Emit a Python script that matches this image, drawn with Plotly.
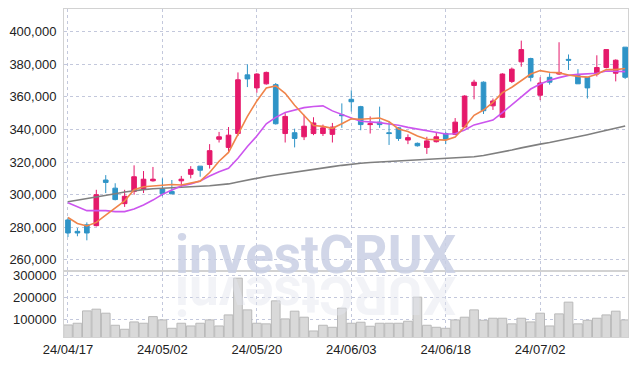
import plotly.graph_objects as go

dates = ["24/04/17", "24/04/18", "24/04/19", "24/04/22", "24/04/23", "24/04/24", "24/04/25", "24/04/26", "24/04/29", "24/04/30",
         "24/05/02", "24/05/03", "24/05/07", "24/05/08", "24/05/09", "24/05/10", "24/05/13", "24/05/14", "24/05/16", "24/05/17",
         "24/05/20", "24/05/21", "24/05/22", "24/05/23", "24/05/24", "24/05/27", "24/05/28", "24/05/29", "24/05/30", "24/05/31",
         "24/06/03", "24/06/04", "24/06/05", "24/06/07", "24/06/10", "24/06/11", "24/06/12", "24/06/13", "24/06/14", "24/06/17",
         "24/06/18", "24/06/19", "24/06/20", "24/06/21", "24/06/24", "24/06/25", "24/06/26", "24/06/27", "24/06/28", "24/07/01",
         "24/07/02", "24/07/03", "24/07/04", "24/07/05", "24/07/08", "24/07/09", "24/07/10", "24/07/11", "24/07/12", "24/07/15"]

opens = [284500, 277500, 281500, 281000, 309000, 304000, 294500, 302000, 303500, 308500,
         303500, 302000, 308500, 312500, 317500, 318500, 334000, 329000, 337500, 373500,
         365500, 368000, 367500, 337500, 338000, 335500, 337500, 337500, 337000, 349000,
         358500, 354000, 343000, 344500, 338000, 341000, 333500, 331500, 329000, 332500,
         337500, 337000, 341500, 367000, 369000, 354500, 347500, 369500, 381500, 383500,
         361000, 372000, 374000, 383000, 373000, 372000, 374000, 378000, 374500, 390500]
highs = [286000, 279500, 283000, 303000, 312000, 307000, 303000, 318000, 314500, 317000,
         310000, 309000, 311500, 317500, 317500, 331000, 338500, 341500, 375000, 380000,
         374500, 375500, 368500, 350000, 340500, 349000, 347500, 343000, 344000, 356000,
         364000, 354500, 348000, 354000, 345000, 341500, 337000, 332000, 335500, 338000,
         338500, 347000, 361000, 370500, 369500, 359000, 374500, 378000, 394500, 384000,
         372000, 374500, 393500, 386000, 377000, 372000, 385500, 389000, 383000, 390500]
lows = [274000, 274500, 272000, 280500, 301000, 296500, 292500, 300000, 301000, 308000,
        299000, 300500, 304500, 310000, 311000, 316000, 332000, 326500, 336000, 366000,
        362500, 367500, 343000, 332000, 329000, 333500, 336500, 336000, 332000, 341000,
        351000, 339500, 337500, 341000, 330500, 333000, 331000, 329500, 325000, 332000,
        331000, 336500, 341000, 358500, 349500, 352000, 347000, 368500, 378500, 369500,
        358000, 367500, 373500, 376500, 368000, 359000, 372500, 377500, 369500, 371000]
closes = [276500, 276500, 276500, 300000, 307500, 297000, 299000, 311000, 309500, 309500,
          300500, 300500, 309500, 315500, 315000, 327000, 335500, 336500, 370500, 371000,
          374000, 375000, 343500, 348000, 334500, 342000, 344000, 341000, 341500, 348500,
          357000, 343000, 343500, 343000, 337500, 334500, 335000, 330000, 333000, 335500,
          334000, 344500, 360500, 369000, 351500, 357500, 374000, 377000, 389000, 372000,
          368500, 369000, 375000, 382500, 368000, 365500, 378000, 389000, 382500, 372000]

ma5 = [286000, 282300, 280800, 283000, 287400, 291600, 296200, 303100, 304900, 305300,
       305900, 306200, 305900, 307200, 308300, 313600, 320500, 325900, 336900, 348000,
       357500, 365400, 366700, 362200, 354900, 348600, 342400, 341900, 340700, 343500,
       346500, 346300, 346700, 347000, 344800, 340300, 338700, 336000, 334000, 333600,
       333500, 335400, 341500, 348700, 351900, 356600, 362600, 365900, 369900, 374000,
       376100, 375100, 374700, 373400, 372600, 372100, 373900, 376700, 376700, 377400]
ma20 = [295100, 292700, 290200, 290200, 290200, 289600, 289600, 291200, 293700, 296700,
        300200, 302900, 305300, 306600, 308400, 311500, 314100, 316200, 322300, 329500,
        336000, 343500, 347400, 350400, 352100, 353400, 354100, 354500, 351400, 349000,
        347000, 345000, 344800, 344200, 343400, 342600, 341300, 340300, 339100, 338300,
        337200, 337400, 339700, 342800, 344200, 345800, 350300, 355000, 360100, 364800,
        367900, 370200, 371800, 373200, 373800, 374300, 374500, 375900, 375500, 375500]
ma_long = [295700, 296600, 297600, 298600, 299600, 300600, 301600, 302500, 303100, 303600,
           304000, 304300, 304600, 304900, 305200, 305500, 305900, 306600, 307800, 309000,
           310300, 311200, 312100, 313000, 314000, 314900, 315700, 316500, 317200, 318000,
           318800, 319300, 319700, 320000, 320300, 320600, 320900, 321100, 321400, 321700,
           322000, 322400, 322800, 323300, 324000, 325000, 326100, 327400, 328700, 330000,
           331000, 332000, 333100, 334200, 335500, 336800, 338100, 339400, 340800, 342100]

volume = [74000, 81800, 137700, 145500, 127300, 72700, 54500, 87700, 81800, 111800,
          96800, 59000, 81800, 69500, 81800, 96800, 69500, 119500, 286000, 142300,
          81800, 79000, 183200, 101400, 136400, 109100, 46800, 72700, 63600, 150000,
          81800, 86400, 68200, 81800, 81800, 81800, 90900, 200000, 72700, 63600,
          59000, 96800, 109100, 142300, 95300, 104500, 104500, 79000, 104500, 87700,
          127300, 69500, 124200, 177300, 79000, 95300, 104500, 119500, 136400, 96800]

tick_dates = dates[::10]
price_ticks = [260000, 280000, 300000, 320000, 340000, 360000, 380000, 400000]
volume_ticks = [100000, 200000, 300000]

UP = "#e5196b"
DOWN = "#2f94c7"
GRID = "#c3c8dc"
FRAME = "#d2d2d2"
FONT = "Liberation Sans, Arial, sans-serif"
WM_FONT = "Roboto, Liberation Sans, sans-serif"

fig = go.Figure()

fig.add_trace(go.Bar(
    x=dates, y=volume, xaxis="x", yaxis="y2",
    marker=dict(color="#d9d9d9", line=dict(color="#b9b9b9", width=1)),
    showlegend=False, hoverinfo="skip"))

fig.add_trace(go.Scatter(x=dates, y=ma_long, mode="lines", line=dict(color="#7f7f7f", width=1.6),
                         showlegend=False, hoverinfo="skip"))
fig.add_trace(go.Scatter(x=dates, y=ma20, mode="lines", line=dict(color="#cc55ee", width=1.6),
                         showlegend=False, hoverinfo="skip"))
fig.add_trace(go.Scatter(x=dates, y=ma5, mode="lines", line=dict(color="#f0844a", width=1.6),
                         showlegend=False, hoverinfo="skip"))

fig.add_trace(go.Candlestick(
    x=dates, open=opens, high=highs, low=lows, close=closes,
    increasing=dict(line=dict(color=UP, width=1), fillcolor=UP),
    decreasing=dict(line=dict(color=DOWN, width=1), fillcolor=DOWN),
    whiskerwidth=0, showlegend=False, hoverinfo="skip"))

# watermark and its reflection
fig.add_annotation(text="<b>investCRUX</b>", xref="paper", yref="paper", x=0.447, y=0.149,
                   showarrow=False, font=dict(family=WM_FONT, size=53, color="#c9d0e4"), opacity=0.85)
fig.add_annotation(text="<b>XURCtsevni</b>", xref="paper", yref="paper", x=0.447, y=0.027,
                   textangle=180, showarrow=False,
                   font=dict(family=WM_FONT, size=53, color="#e3e6ef"), opacity=0.45)

fig.update_layout(
    width=637, height=366,
    margin=dict(l=64, r=9, t=9, b=29, autoexpand=False),
    paper_bgcolor="white", plot_bgcolor="white",
    bargap=0.08,
    xaxis=dict(type="category", anchor="y2", range=[-0.42, 59.3], automargin=False,
               tickmode="array", tickvals=tick_dates, ticktext=tick_dates,
               showgrid=True, gridcolor=GRID, griddash="dot", gridwidth=1,
               showline=True, linecolor=FRAME, mirror="all",
               rangeslider=dict(visible=False), ticks="",
               tickfont=dict(family=FONT, size=13, color="#222")),
    yaxis=dict(domain=[0.2043, 1.0], range=[253800, 413900], automargin=False,
               tickmode="array", tickvals=price_ticks, tickformat=",d",
               showgrid=True, gridcolor=GRID, griddash="dot", gridwidth=1,
               showline=True, linecolor=FRAME, mirror=True, zeroline=False, ticks="",
               ticklabelstandoff=4,
               tickfont=dict(family=FONT, size=13, color="#222")),
    yaxis2=dict(domain=[0.0, 0.198], range=[19500, 313600], automargin=False,
                tickmode="array", tickvals=volume_ticks, tickformat="d",
                showgrid=True, gridcolor=GRID, griddash="dot", gridwidth=1,
                showline=True, linecolor=FRAME, mirror=True, zeroline=False, ticks="",
                ticklabelstandoff=4,
                tickfont=dict(family=FONT, size=13, color="#222")),
)

fig.write_html("out.html", config={"displayModeBar": False},
               post_script="document.body.style.margin='0px';")
